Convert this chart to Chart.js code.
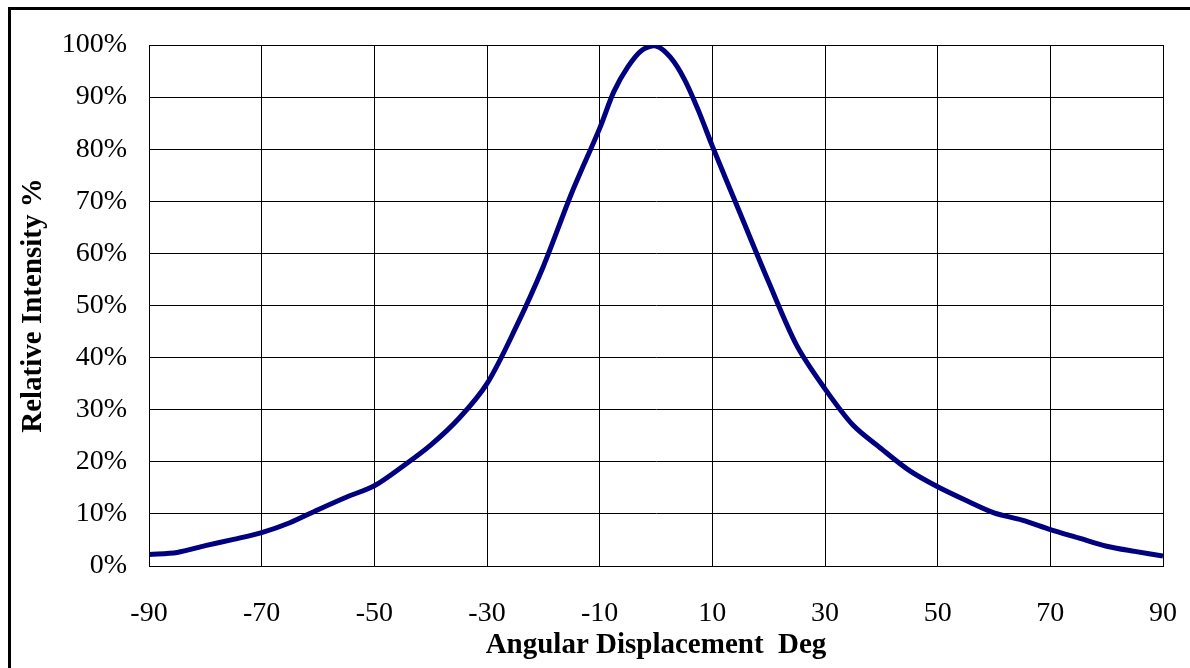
<!DOCTYPE html>
<html>
<head>
<meta charset="utf-8">
<script src="https://cdn.jsdelivr.net/npm/chart.js@4.4.0/dist/chart.umd.min.js"></script>
<style>
  html, body { margin: 0; padding: 0; background: #fff; }
  #wrap { width: 1190px; height: 668px; }
</style>
</head>
<body>
<div id="wrap"><canvas id="chart" width="1190" height="668"></canvas></div>
<script>
// angle (deg) and relative intensity (%)
const angles = [-90, -85, -80, -75, -70, -65, -60, -55, -50, -45, -40, -35, -30, -25, -20, -15,
  -10, -7.5, -5, -2.5, 0, 2.5, 5, 7.5, 10, 15, 20, 25, 30, 35, 40, 45, 50, 55, 60, 65, 70, 75, 80, 85, 90];
const intensity = [2.2, 2.6, 3.9, 5.1, 6.4, 8.3, 10.8, 13.2, 15.4, 19.1, 23.2, 28.3, 35.0, 45.5, 57.5, 71.5,
  84.0, 91.0, 95.8, 99.0, 99.8, 97.7, 93.5, 87.5, 80.6, 67.5, 54.5, 42.3, 34.0, 27.0, 22.5, 18.3, 15.2, 12.6, 10.2, 8.8, 7.0, 5.4, 3.8, 2.8, 1.9];
const xTicks = [-90, -70, -50, -30, -10, 10, 30, 50, 70, 90];
const yTicks = [0, 10, 20, 30, 40, 50, 60, 70, 80, 90, 100];

const frame = {
  id: 'frame',
  beforeDraw(chart) {
    const c = chart.ctx;
    c.save();
    c.fillStyle = '#fff';
    c.fillRect(0, 0, chart.width, chart.height);
    c.strokeStyle = '#000';
    c.lineWidth = 3;
    c.beginPath();
    c.moveTo(9.5, chart.height + 10);
    c.lineTo(9.5, 8.5);
    c.lineTo(chart.width + 10, 8.5);
    c.stroke();
    c.restore();
  }
};

new Chart(document.getElementById('chart'), {
  type: 'line',
  data: {
    datasets: [{
      data: angles.map((a, i) => ({ x: a, y: intensity[i] })),
      borderColor: '#000080',
      borderWidth: 5,
      pointRadius: 0,
      tension: 0.3,
      fill: false
    }]
  },
  options: {
    responsive: false,
    animation: false,
    layout: { padding: { top: 45, right: 27, left: 0, bottom: 0 } },
    plugins: { legend: { display: false }, tooltip: { enabled: false } },
    scales: {
      x: {
        type: 'linear',
        min: -90, max: 90,
        afterBuildTicks: s => { s.ticks = xTicks.map(v => ({ value: v })); },
        afterFit: s => { s.height = 102; s.paddingLeft = 0; s.paddingRight = 0; },
        grid: { color: '#000', lineWidth: 1, drawTicks: false },
        border: { color: '#000', width: 1 },
        ticks: { color: '#000', padding: 31, maxRotation: 0, autoSkip: false,
          font: { family: 'Liberation Serif', size: 28 } },
        title: { display: true, text: 'Angular Displacement  Deg', color: '#000',
          padding: { top: 0, bottom: 5 },
          font: { family: 'Liberation Serif', size: 29, weight: 'bold' } }
      },
      y: {
        min: 0, max: 100,
        afterBuildTicks: s => { s.ticks = yTicks.map(v => ({ value: v })); },
        afterFit: s => { s.width = 149; s.paddingTop = 0; s.paddingBottom = 0; },
        grid: { color: '#000', lineWidth: 1, drawTicks: false },
        border: { color: '#000', width: 1 },
        ticks: { color: '#000', padding: 22, callback: v => v + '%',
          font: { family: 'Liberation Serif', size: 28 } },
        title: { display: true, text: 'Relative Intensity %', color: '#000',
          padding: { top: 16, bottom: 0 },
          font: { family: 'Liberation Serif', size: 29, weight: 'bold' } }
      }
    }
  },
  plugins: [frame]
});
</script>
</body>
</html>
